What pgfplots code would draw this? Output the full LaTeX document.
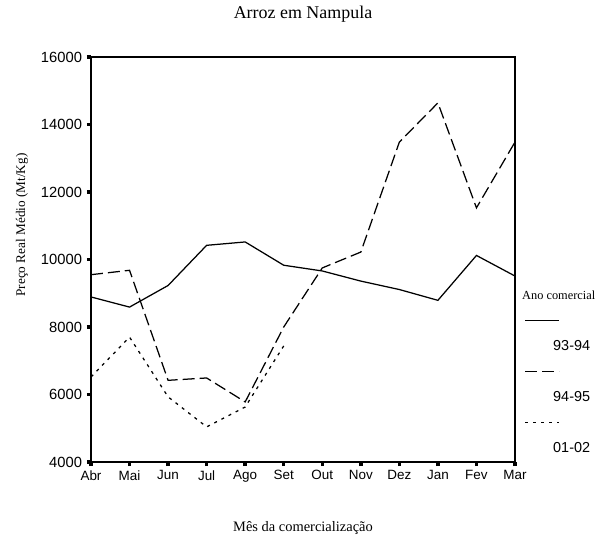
\documentclass[border=0pt]{standalone}
\usepackage{fontspec}
\setmainfont{Liberation Serif}
\setsansfont{Liberation Sans}
\usepackage{pgfplots}
\pgfplotsset{compat=1.18}
\begin{document}
\begin{tikzpicture}
\path[use as bounding box] (-91bp,-78bp) rectangle (516bp,462bp);
\begin{axis}[
  at={(0,0)}, anchor=south west,
  scale only axis, width=424bp, height=405bp,
  xmin=0, xmax=11, ymin=4000, ymax=16000,
  xtick={0,...,11},
  xticklabels={Abr,Mai,Jun,Jul,Ago,Set,Out,Nov,Dez,Jan,Fev,Mar},
  ytick={4000,6000,...,16000},
  scaled y ticks=false,
  /pgf/number format/1000 sep={},
  /pgf/number format/fixed,
  /pgf/number format/assume math mode=true,
  xticklabel style={font=\sffamily\fontsize{13.5}{15}\selectfont, yshift=-1bp},
  yticklabel style={font=\sffamily\fontsize{14.8}{16}\selectfont, xshift=-1.5bp},
  xtick pos=left, ytick pos=left, tick align=outside,
  major tick length=4bp,
  tick style={line width=3.5bp, black},
  axis line style={line width=1.1bp},
  title={Arroz em Nampula},
  title style={font=\fontsize{18}{20}\selectfont, at={(axis description cs:0.5,1.0815)}, anchor=base},
  xlabel={Mês da comercialização},
  xlabel style={font=\fontsize{14.5}{16}\selectfont, at={(axis description cs:0.5,-0.1704)}, anchor=base},
  ylabel={Preço Real Médio (Mt/Kg)},
  ylabel style={font=\fontsize{13.3}{15}\selectfont, at={(axis description cs:-0.1627,0.585)}, anchor=center, rotate=0},
  legend image code/.code={\draw[#1, overlay] (3bp,27bp) -- (37bp,27bp);},
  legend cell align=left,
  legend style={draw=none, fill=none, at={(axis description cs:1.0165,0.424)}, anchor=north west,
    inner sep=0pt, column sep=0pt, row sep=39bp,
    nodes={inner sep=0pt, text height=9bp, text depth=3bp}},
]
\addlegendimage{empty legend}
\addlegendentry{\fontsize{12.4}{14}\selectfont Ano comercial}
\addplot[black, line width=1.25bp, solid] coordinates {
(0,8890) (1,8590) (2,9230) (3,10420) (4,10520) (5,9830) (6,9660) (7,9360) (8,9110) (9,8790) (10,10120) (11,9510)};
\addlegendentry{\hspace{31bp}\sffamily\fontsize{14.5}{16}\selectfont 93-94}
\addplot[black, line width=1.25bp, dash pattern=on 12bp off 5bp] coordinates {
(0,9550) (1,9680) (2,6420) (3,6490) (4,5780) (5,8000) (6,9750) (7,10220) (8,13480) (9,14640) (10,11530) (11,13480)};
\addlegendentry{\hspace{31bp}\sffamily\fontsize{14.5}{16}\selectfont 94-95}
\addplot[black, line width=1.25bp, dash pattern=on 3bp off 5bp] coordinates {
(0,6520) (1,7700) (2,5930) (3,5040) (4,5630) (5,7440)};
\addlegendentry{\hspace{31bp}\sffamily\fontsize{14.5}{16}\selectfont 01-02}
\end{axis}
\end{tikzpicture}
\end{document}
